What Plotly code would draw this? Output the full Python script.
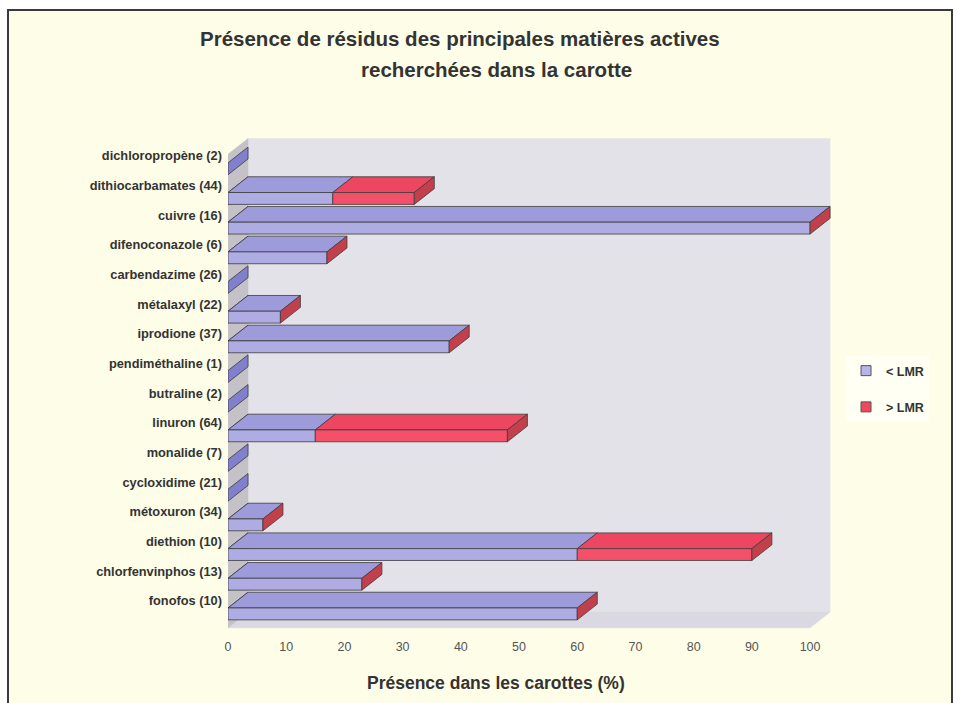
import plotly.graph_objects as go

# ---------------- data ----------------
categories = [
    "dichloropropène (2)", "dithiocarbamates (44)", "cuivre (16)", "difenoconazole (6)",
    "carbendazime (26)", "métalaxyl (22)", "iprodione (37)", "pendiméthaline (1)",
    "butraline (2)", "linuron (64)", "monalide (7)", "cycloxidime (21)",
    "métoxuron (34)", "diethion (10)", "chlorfenvinphos (13)", "fonofos (10)",
]
below_lmr = [0, 18, 100, 17, 0, 9, 38, 0, 0, 15, 0, 0, 6, 60, 23, 60]
above_lmr = [0, 14, 0, 0, 0, 0, 0, 0, 0, 33, 0, 0, 0, 30, 0, 0]
x_ticks = [0, 10, 20, 30, 40, 50, 60, 70, 80, 90, 100]
series_names = ["< LMR", "> LMR"]

# ---------------- pseudo-3D geometry (axis units) ----------------
DX, DY = 3.44, 0.53      # depth offset
FT, FB = 0.24, 0.64      # front face top / bottom below category centre
X_MAX = 100
FLOOR_Y = -0.91
WALL_TOP = 15.05

n = len(categories)
ys = [n - 1 - i for i in range(n)]


def add_poly(acc, pts):
    for px, py in pts + [pts[0]]:
        acc[0].append(px)
        acc[1].append(py)
    acc[0].append(None)
    acc[1].append(None)


left_f = ([], [])
top_b, top_r = ([], []), ([], [])
front_b, front_r = ([], []), ([], [])
end_f = ([], [])

for c, b, r in zip(ys, below_lmr, above_lmr):
    y0, y1 = c - FB, c - FT
    add_poly(left_f, [(0, y0), (0, y1), (DX, y1 + DY), (DX, y0 + DY)])
    if b > 0:
        add_poly(top_b, [(0, y1), (b, y1), (b + DX, y1 + DY), (DX, y1 + DY)])
        add_poly(front_b, [(0, y0), (b, y0), (b, y1), (0, y1)])
    if r > 0:
        add_poly(top_r, [(b, y1), (b + r, y1), (b + r + DX, y1 + DY), (b + DX, y1 + DY)])
        add_poly(front_r, [(b, y0), (b + r, y0), (b + r, y1), (b, y1)])
    tot = b + r
    if tot > 0:
        add_poly(end_f, [(tot, y0), (tot, y1), (tot + DX, y1 + DY), (tot + DX, y0 + DY)])

walls_left, walls_back, walls_floor = ([], []), ([], []), ([], [])
add_poly(walls_left, [(0, FLOOR_Y), (0, WALL_TOP), (DX, WALL_TOP + DY), (DX, FLOOR_Y + DY)])
add_poly(walls_back, [(DX, FLOOR_Y + DY), (X_MAX + DX, FLOOR_Y + DY),
                      (X_MAX + DX, WALL_TOP + DY), (DX, WALL_TOP + DY)])
add_poly(walls_floor, [(0, FLOOR_Y), (X_MAX, FLOOR_Y), (X_MAX + DX, FLOOR_Y + DY), (DX, FLOOR_Y + DY)])

fig = go.Figure()


def face(acc, fill, line="#3c3c3c", lw=0.8):
    fig.add_trace(go.Scatter(
        x=acc[0], y=acc[1], mode="lines", fill="toself", fillcolor=fill,
        line=dict(color=line, width=lw), hoverinfo="skip", showlegend=False,
    ))


face(walls_back, "#E4E2E9", line="#E4E2E9", lw=0.5)
face(walls_floor, "#DAD8E0", line="#DAD8E0", lw=0.5)
face(walls_left, "#C4C2C6", line="#C4C2C6", lw=0.5)
face(left_f, "#8280CC")
face(top_b, "#9D9BDA")
face(top_r, "#EC4660")
face(front_b, "#AEACE3")
face(front_r, "#F5506A")
face(end_f, "#C2404C")

# legend entries (square swatches)
for name, col, grp in [(series_names[0], "#B6B4E8", "a"), (series_names[1], "#F2485E", "b")]:
    fig.add_trace(go.Scatter(
        x=[None], y=[None], mode="markers", name=name, legendgroup=grp,
        marker=dict(symbol="square", size=10, color=col, line=dict(color="#555555", width=1)),
        hoverinfo="skip",
    ))

W, H = 957, 703
L, R = 228, 957 - 228 - 617
T, B = 129, 71
pw, ph = W - L - R, H - T - B


def px_x(p):
    return (p - L) / pw


def px_y(p):
    return (H - B - p) / ph


font = "Liberation Sans, Arial, sans-serif"

fig.update_layout(
    width=W, height=H,
    margin=dict(l=L, r=R, t=T, b=B, autoexpand=False),
    paper_bgcolor="white",
    plot_bgcolor="rgba(0,0,0,0)",
    font=dict(family=font, color="#333333"),
    xaxis=dict(range=[0, 106], tickvals=x_ticks, showgrid=False, zeroline=False,
               showline=False, ticks="", tickfont=dict(size=12.5, color="#555555"),
               ticklabelstandoff=5),
    yaxis=dict(range=[-1.05, 15.9], tickvals=ys, ticktext=categories, showgrid=False,
               zeroline=False, showline=False, ticks="",
               tickfont=dict(size=12.8, color="#333333", weight="bold"),
               ticklabelstandoff=5),
    legend=dict(x=px_x(846), y=px_y(356), xanchor="left", yanchor="top",
                bgcolor="#FFFFF4", borderwidth=0, tracegroupgap=17,
                traceorder="grouped",
                font=dict(size=12.5, color="#333333", weight="bold"),
                itemwidth=30),
    shapes=[dict(type="rect", xref="paper", yref="paper",
                 x0=px_x(8), x1=px_x(952), y0=px_y(712), y1=px_y(10),
                 line=dict(color="#3a3a3a", width=2), fillcolor="#FEFDE8", layer="below")],
    annotations=[
        dict(text="Présence de résidus des principales matières actives", xref="paper", yref="paper",
             x=px_x(460), y=px_y(38), showarrow=False, xanchor="center", yanchor="middle",
             font=dict(size=20.5, color="#333333", weight="bold")),
        dict(text="recherchées dans la carotte", xref="paper", yref="paper",
             x=px_x(496), y=px_y(70), showarrow=False, xanchor="center", yanchor="middle",
             font=dict(size=20.5, color="#333333", weight="bold")),
        dict(text="Présence dans les carottes (%)", xref="paper", yref="paper",
             x=px_x(496), y=px_y(683), showarrow=False, xanchor="center", yanchor="middle",
             font=dict(size=17.5, color="#333333", weight="bold")),
    ],
)

fig.write_html("out.html", config={"displayModeBar": False},
               post_script="document.body.style.margin='0';document.body.style.padding='0';")
